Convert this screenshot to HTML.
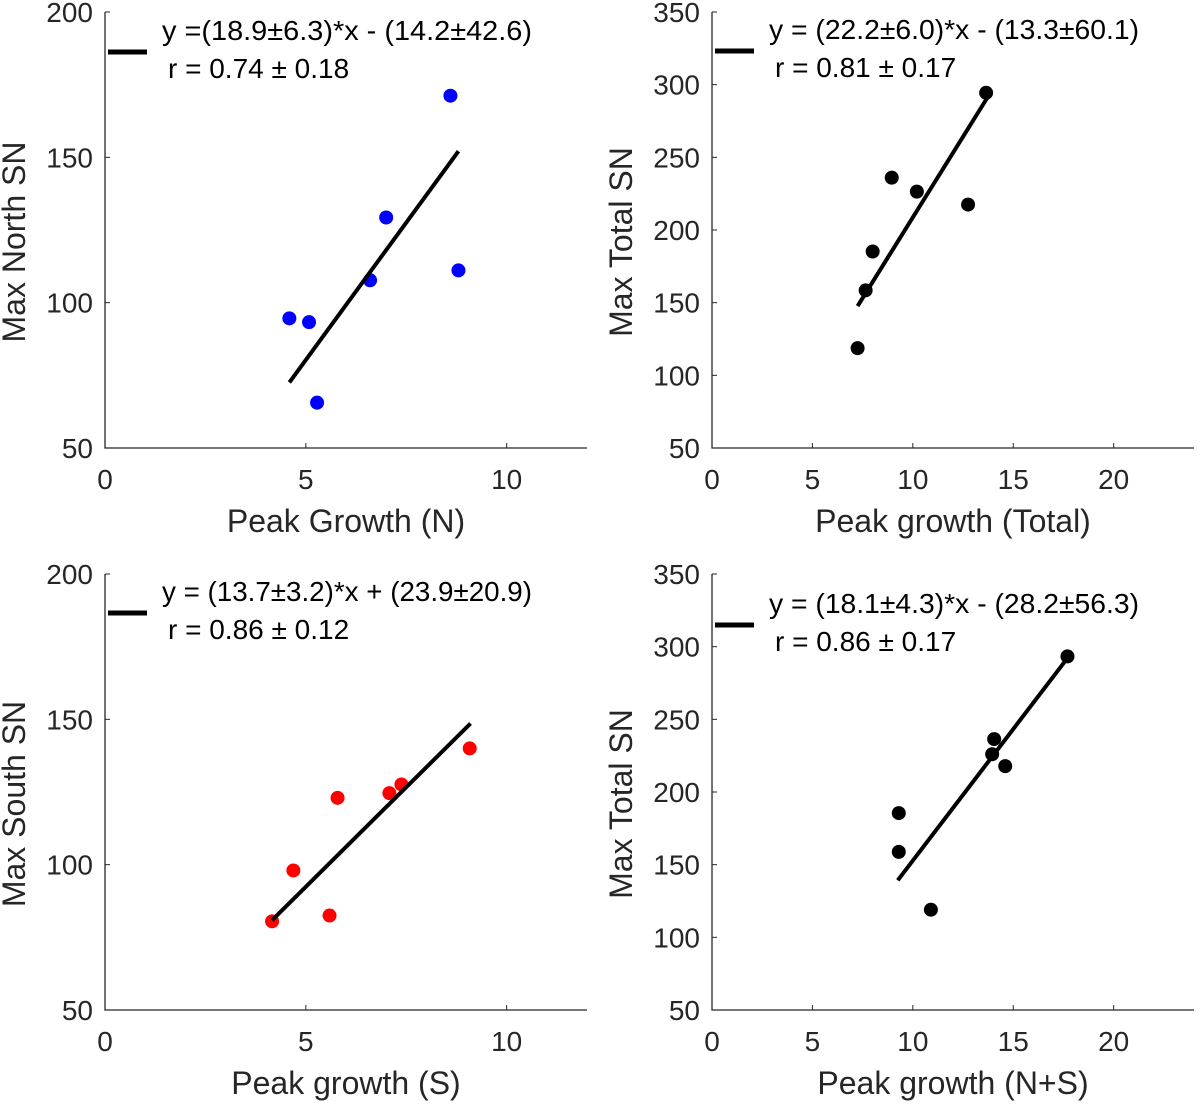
<!DOCTYPE html>
<html><head><meta charset="utf-8"><style>
body{margin:0;background:#fff;}
svg text{font-family:"Liberation Sans",sans-serif;}
</style></head><body>
<svg id="fig" width="1200" height="1103" xmlns="http://www.w3.org/2000/svg"></svg>
<script>
const p1X=[8.6,8.8,7.0,6.6,4.59,5.08,5.28];
const p1Y=[171.2,111.1,129.3,107.7,94.6,93.3,65.6];
const p2X=[13.65,8.95,10.2,8.0,7.65,7.25,12.75];
const p2Y=[294.4,236,226.4,185.2,158.5,118.7,217.5];
const p3X=[4.16,4.69,5.79,5.59,7.08,7.38,9.08];
const p3Y=[80.5,98,123,82.5,124.6,127.6,140];
const p4X=[17.7,14.05,13.95,14.6,9.3,9.3,10.9];
const p4Y=[293.3,236.4,226,217.8,185.5,158.8,119];
const slopes=[18.9,22.2,13.7,18.1];
const intercepts=[-14.2,-13.3,23.9,-28.2];
const fitRanges=[[4.59,8.8],[7.25,13.8],[4.16,9.1],[9.25,17.8]];
const eqLabels=["y =(18.9\u00b16.3)*x - (14.2\u00b142.6)","y = (22.2\u00b16.0)*x - (13.3\u00b160.1)","y = (13.7\u00b13.2)*x + (23.9\u00b120.9)","y = (18.1\u00b14.3)*x - (28.2\u00b156.3)"];
const rLabels=["r = 0.74 \u00b1 0.18","r = 0.81 \u00b1 0.17","r = 0.86 \u00b1 0.12","r = 0.86 \u00b1 0.17"];
const xTicksA=[0,5,10], xTicksB=[0,5,10,15,20];
const yTicksA=[50,100,150,200], yTicksB=[50,100,150,200,250,300,350];
const xLabels=["Peak Growth (N)","Peak growth (Total)","Peak growth (S)","Peak growth (N+S)"];
const yLabels=["Max North SN","Max Total SN","Max South SN","Max Total SN"];

const NS="http://www.w3.org/2000/svg";
const svg=document.getElementById('fig');
function mk(tag,attrs,parent){const e=document.createElementNS(NS,tag);for(const k in attrs)e.setAttribute(k,attrs[k]);(parent||svg).appendChild(e);return e;}

const panels=[
 {L:105,T:12,B:448,xmax:12,ymin:50,ymax:200,xs:p1X,ys:p1Y,col:"#0000ff",xt:xTicksA,yt:yTicksA,legY:52},
 {L:712,T:12,B:448,xmax:24,ymin:50,ymax:350,xs:p2X,ys:p2Y,col:"#000",xt:xTicksB,yt:yTicksB,legY:51},
 {L:105,T:574,B:1010,xmax:12,ymin:50,ymax:200,xs:p3X,ys:p3Y,col:"#ff0000",xt:xTicksA,yt:yTicksA,legY:613},
 {L:712,T:574,B:1010,xmax:24,ymin:50,ymax:350,xs:p4X,ys:p4Y,col:"#000",xt:xTicksB,yt:yTicksB,legY:625}
];
panels.forEach((p,i)=>{
 const R=p.L+482;
 const g=mk('g',{});
 
 
 const sx=v=>p.L+v/p.xmax*(R-p.L);
 const sy=v=>p.B-(v-p.ymin)/(p.ymax-p.ymin)*(p.B-p.T);
 const ax=mk('path',{d:`M${p.L},${p.T}V${p.B}H${R}`,stroke:'#262626','stroke-width':1.3,fill:'none'},g);
 
 
 p.xt.forEach(t=>{
  mk('line',{x1:sx(t),x2:sx(t),y1:p.B,y2:p.B-5,stroke:'#262626','stroke-width':1},g);
  const tx=mk('text',{x:sx(t),y:p.B+41,'font-size':28,fill:'#262626','text-anchor':'middle'},g);
  tx.textContent=t;
  
  
 });
 p.yt.forEach(t=>{
  mk('line',{x1:p.L,x2:p.L+5,y1:sy(t),y2:sy(t),stroke:'#262626','stroke-width':1},g);
  const tx=mk('text',{x:p.L-12,y:sy(t)+10,'font-size':28,fill:'#262626','text-anchor':'end'},g);
  tx.textContent=t;
  
  
 });
 const xl=mk('text',{x:(p.L+R)/2,y:p.B+84,'font-size':32,fill:'#262626','text-anchor':'middle'},g);
 xl.textContent=xLabels[i];
 
 
 const yx=p.L-80, yy=(p.T+p.B)/2+12;
 const yl=mk('text',{x:yx,y:yy,'font-size':32,fill:'#262626','text-anchor':'middle',transform:`rotate(-90 ${yx} ${yy})`},g);
 yl.textContent=yLabels[i];
 
 
 p.xs.forEach((x,j)=>{
  const c=mk('circle',{cx:sx(x),cy:sy(p.ys[j]),r:7,fill:p.col},g);
  
  
 });
 const [a,b]=fitRanges[i];
 const fl=mk('line',{x1:sx(a),y1:sy(slopes[i]*a+intercepts[i]),x2:sx(b),y2:sy(slopes[i]*b+intercepts[i]),stroke:'#000','stroke-width':4},g);
 
 
 const ll=mk('line',{x1:p.L+3,x2:p.L+42,y1:p.legY,y2:p.legY,stroke:'#000','stroke-width':5},g);
 
 
 const e1=mk('text',{x:p.L+57,y:p.legY-12,'font-size':28,fill:'#000',textLength:370,lengthAdjust:'spacingAndGlyphs'},g);
 e1.textContent=eqLabels[i];
 
 
 const e2=mk('text',{x:p.L+63,y:p.legY+26,'font-size':28,fill:'#000'},g);
 e2.textContent=rLabels[i];
 
 
});
</script>
</body></html>
